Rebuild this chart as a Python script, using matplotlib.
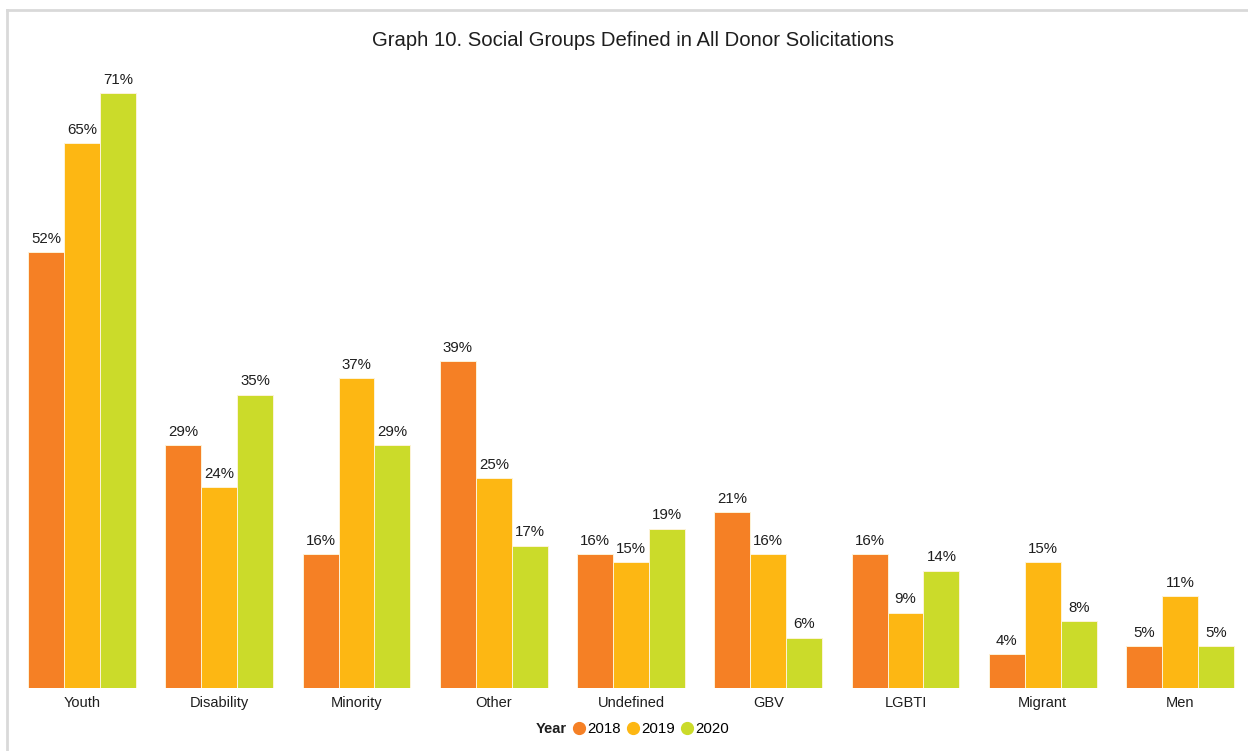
import numpy as np
import matplotlib.pyplot as plt
from matplotlib.lines import Line2D

plt.rcParams['font.family'] = ['Liberation Sans', 'DejaVu Sans']

groups = ["Youth", "Disability", "Minority", "Other", "Undefined", "GBV", "LGBTI", "Migrant", "Men"]
years = ["2018", "2019", "2020"]
vals_2018 = [52, 29, 16, 39, 16, 21, 16, 4, 5]
vals_2019 = [65, 24, 37, 25, 15, 16, 9, 15, 11]
vals_2020 = [71, 35, 29, 17, 19, 6, 14, 8, 5]

colors = ["#F58025", "#FDB713", "#CBDB2A"]

fig = plt.figure(figsize=(12.48, 7.51), dpi=100)
ax = fig.add_axes([13.4 / 1248, 1 - 688 / 751, 1235.2 / 1248, 628 / 751])

x = np.arange(len(groups))
w = 0.262
for i, (series, c) in enumerate(zip([vals_2018, vals_2019, vals_2020], colors)):
    bars = ax.bar(x + (i - 1) * w, series, width=w, color=c, edgecolor="#fdf3d8", linewidth=0.7)
    for b, v in zip(bars, series):
        ax.text(b.get_x() + b.get_width() / 2, v + 0.75, f"{v}%", ha="center", va="bottom",
                fontsize=10.8, color="#1e1e1e")

ax.set_xlim(-0.5, len(groups) - 0.5)
ax.set_ylim(0, 74.94)
ax.set_xticks(x)
ax.set_xticklabels(groups, fontsize=10.5, color="#1e1e1e")
ax.tick_params(axis="x", length=0, pad=6)
ax.set_yticks([])
for s in ax.spines.values():
    s.set_visible(False)

fig.text(0.5075, 1 - 40 / 751, "Graph 10. Social Groups Defined in All Donor Solicitations",
         ha="center", va="center", fontsize=14.6, color="#1e1e1e")

# legend row at the bottom
ly = 1 - 729 / 751
fig.text(536 / 1248, ly, "Year", ha="left", va="center", fontsize=10.5, fontweight="bold", color="#1e1e1e")
handles = [Line2D([], [], marker="o", linestyle="", markersize=8.5, color=c) for c in colors]
fig.legend(handles, years, loc="center left", bbox_to_anchor=(574 / 1248, ly), ncol=3, frameon=False,
           fontsize=10.8, handlelength=0.7, handletextpad=0.2, columnspacing=0.45, borderpad=0,
           borderaxespad=0)

# light frame along top and left
fig.add_artist(Line2D([7 / 1248, 1], [1 - 10 / 751, 1 - 10 / 751], color="#d9d9d9", lw=2))
fig.add_artist(Line2D([7 / 1248, 7 / 1248], [0, 1 - 10 / 751], color="#d9d9d9", lw=2))

fig.savefig("out.png", dpi=100)
